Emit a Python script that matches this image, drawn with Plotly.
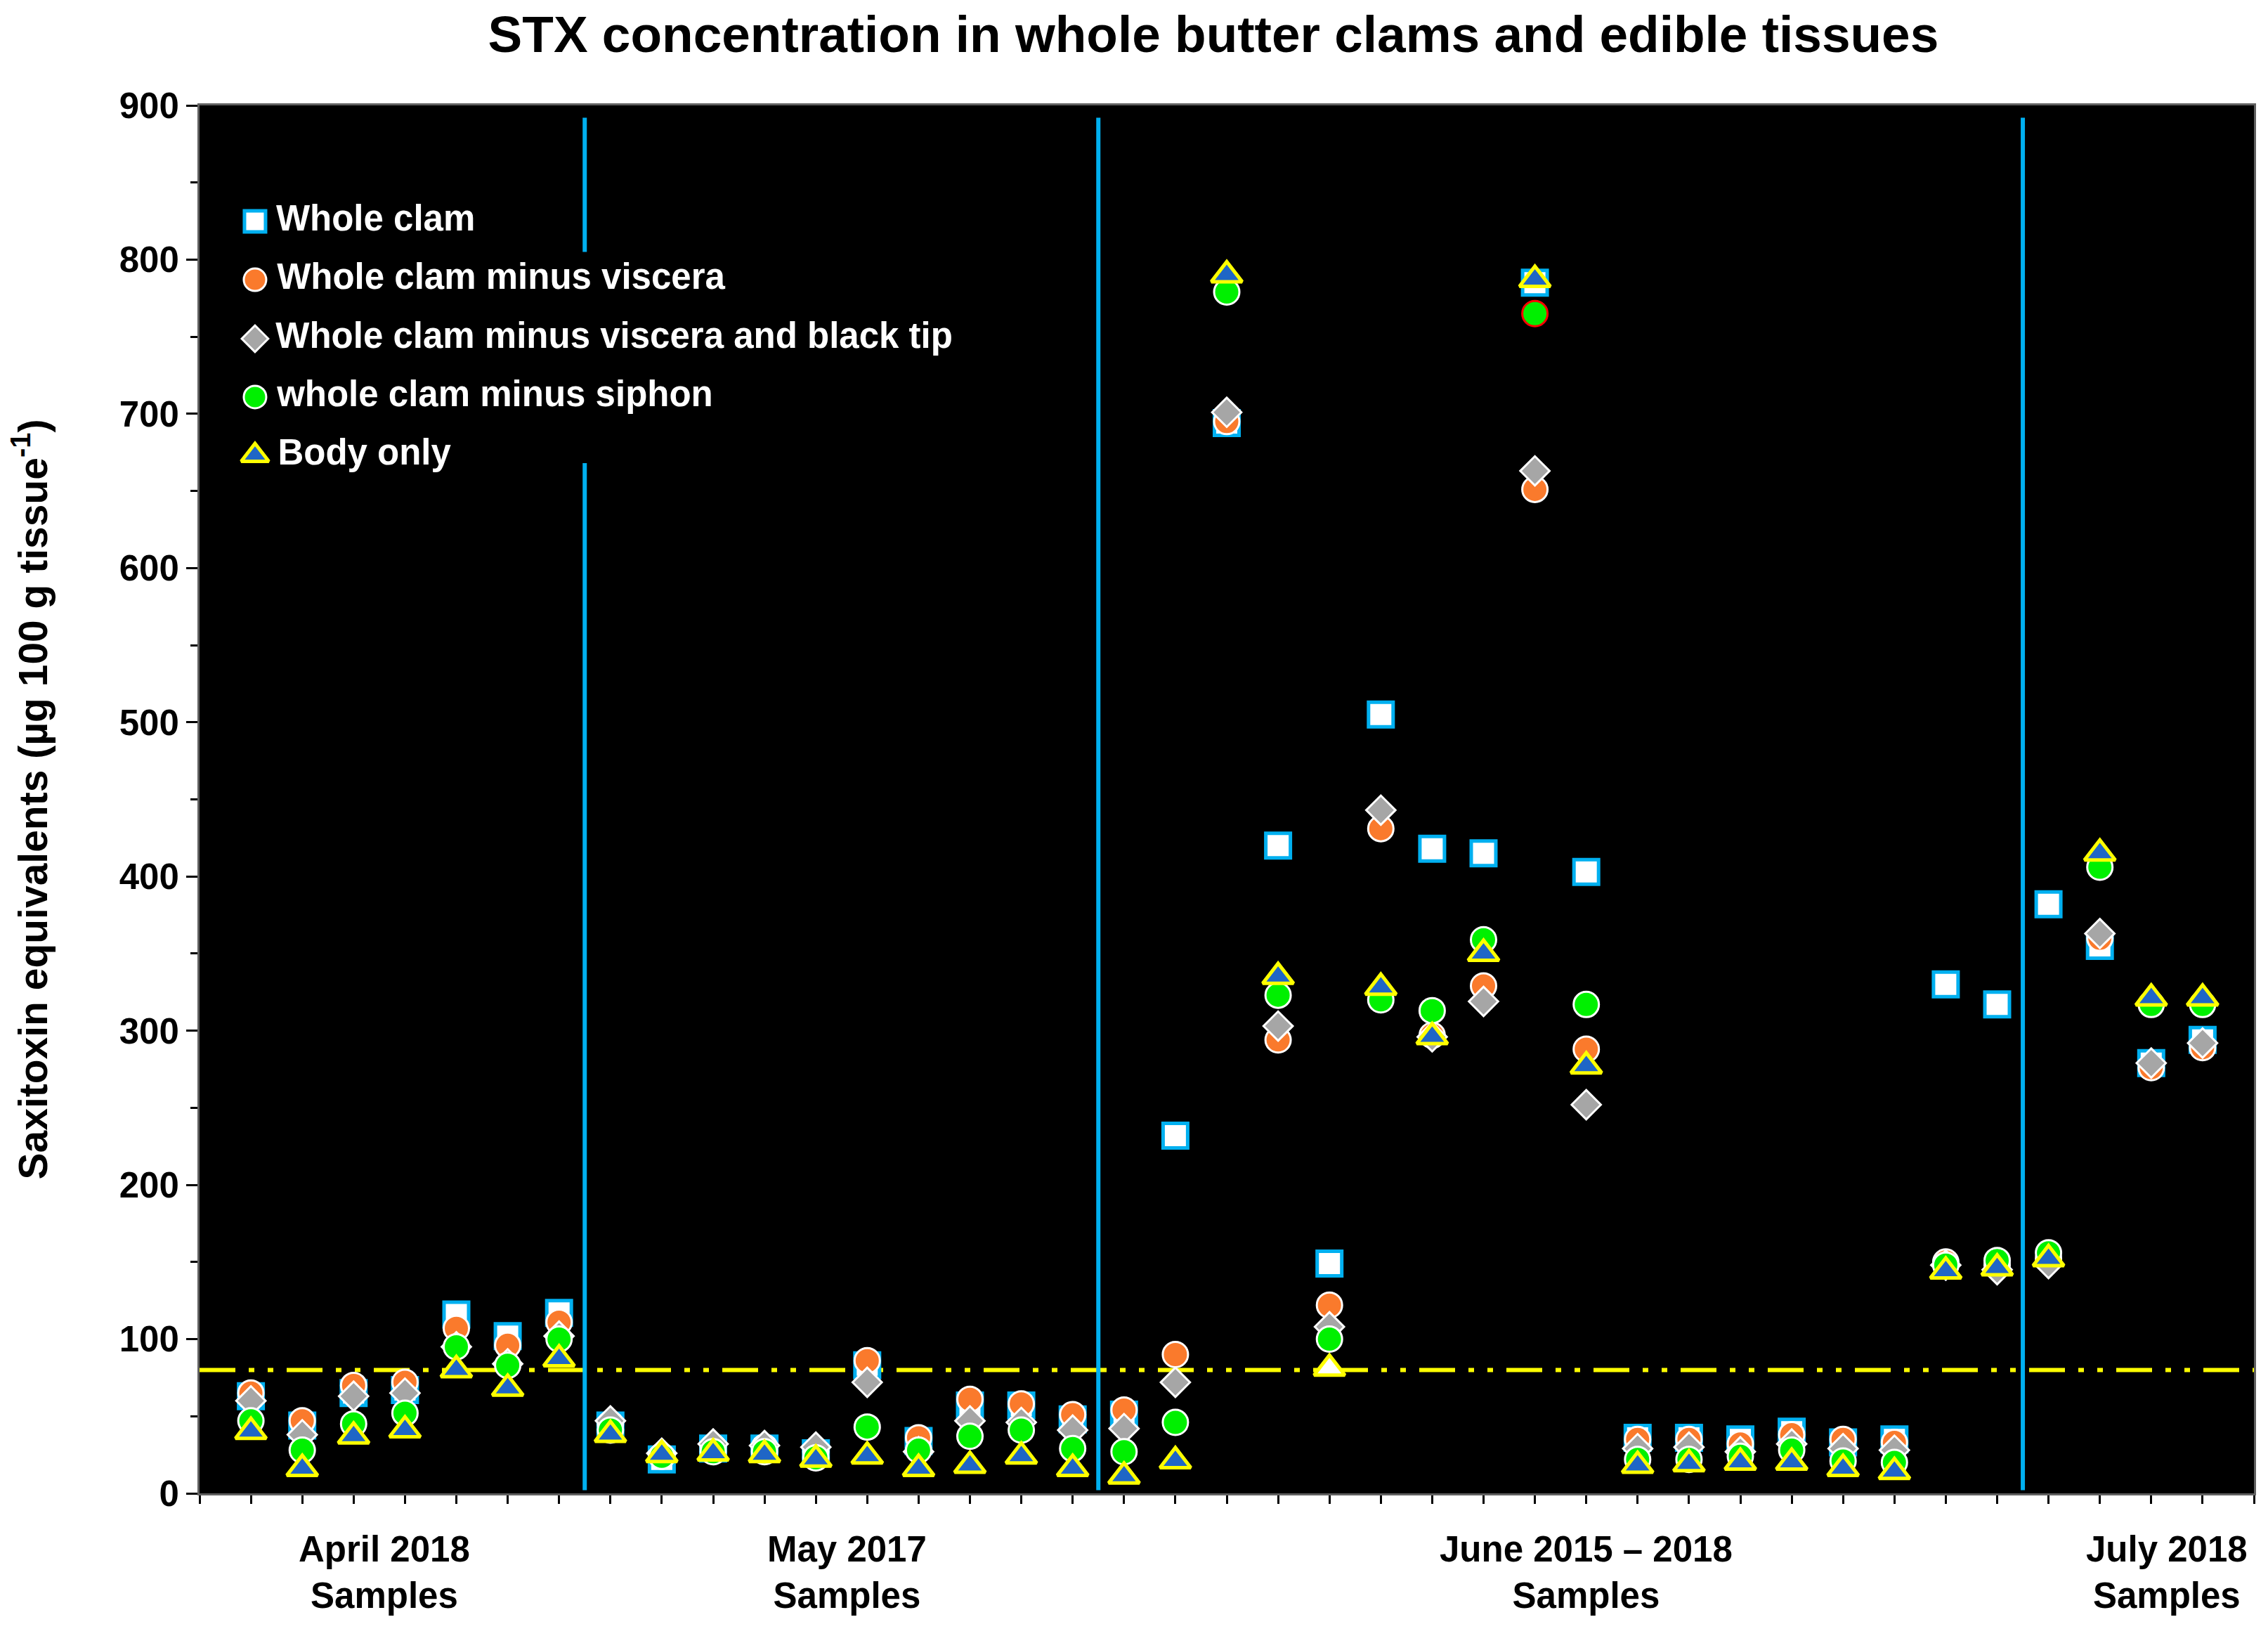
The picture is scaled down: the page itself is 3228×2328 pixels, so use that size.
import plotly.graph_objects as go

# ---------------- data ----------------
samples = list(range(1, 40))

whole_clam = [63, 44, 65, 67, 116, 102, 117,
              44, 22, 29, 29, 26, 83, 34, 57, 57, 48,
              51, 232, 694, 420, 149, 505, 418, 415, 785, 403, 36, 36, 35, 40, 33, 35, 330, 317,
              382, 355, 279, 294]
minus_viscera = [65, 47, 70, 72, 107, 96, 111,
                 45, 24, 30, 30, 27, 86, 36, 61, 58, 51,
                 54, 90, 695, 294, 122, 431, 297, 329, 651, 288, 35, 35, 32, 38, 35, 33, 150, 148,
                 152, 360, 276, 289]
minus_viscera_tip = [60, 38, 63, 65, 95, 84, 102,
                     47, 26, 32, 31, 30, 72, 27, 47, 46, 41,
                     42, 72, 701, 303, 108, 443, 296, 319, 663, 252, 29, 30, 27, 32, 29, 28, 148, 145,
                     149, 363, 279, 292]
minus_siphon = [47, 28, 45, 52, 95, 83, 100,
                41, 24, 27, 27, 23, 43, 28, 37, 41, 29,
                27, 46, 779, 323, 100, 320, 313, 359, 765, 317, 22, 22, 24, 28, 21, 20, 148, 151,
                156, 406, 317, 317]
body_only = [40, 16, 37, 41, 80, 68, 87,
             38, 25, 26, 25, 22, 24, 16, 18, 24, 16,
             11, 21, 790, 335, 81, 328, 296, 350, 787, 277, 18, 19, 20, 20, 16, 14, 144, 146,
             152, 415, 321, 321]

series_names = ["Whole clam", "Whole clam minus viscera",
                "Whole clam minus viscera and black tip",
                "whole clam minus siphon", "Body only"]

group_labels = ["April 2018<br>Samples", "May 2017<br>Samples",
                "June 2015 \u2013 2018<br>Samples", "July 2018<br>Samples"]
group_label_x = [3.6, 12.6, 27.0, 38.3]

separators = [7.5, 17.5, 35.5]
limit_value = 80

y_ticks = list(range(0, 901, 100))
x_ticks = list(range(0, 41))

# ---------------- styles ----------------
FONT = "Liberation Sans, Arial, sans-serif"
BLUE_EDGE = "#00B0F0"
ORANGE = "#FA7A2C"
GRAY = "#A6A6A6"
GREEN = "#00F000"
TRI_BLUE = "#1F66C6"
YELLOW = "#FFFF00"

n = len(samples)
green_edge = ["white"] * n
green_edge[25] = "#FF0000"          # red-ringed point in column 26
tri_fill = [TRI_BLUE] * n
tri_fill[21] = "white"               # white-filled triangle in column 22

styles = [
    dict(symbol="square", size=35, color="white", line=dict(color=BLUE_EDGE, width=5)),
    dict(symbol="circle", size=36, color=ORANGE, line=dict(color="white", width=3)),
    dict(symbol="diamond", size=32, color=GRAY, line=dict(color="white", width=3)),
    dict(symbol="circle", size=36, color=GREEN, line=dict(color=green_edge, width=3)),
    dict(symbol="triangle-up", size=38, color=tri_fill, line=dict(color=YELLOW, width=5)),
]
legend_styles = [
    dict(symbol="square", size=30, color="white", line=dict(color=BLUE_EDGE, width=5)),
    dict(symbol="circle", size=32, color=ORANGE, line=dict(color="white", width=3)),
    dict(symbol="diamond", size=29, color=GRAY, line=dict(color="white", width=3)),
    dict(symbol="circle", size=32, color=GREEN, line=dict(color="white", width=3)),
    dict(symbol="triangle-up", size=34, color=TRI_BLUE, line=dict(color=YELLOW, width=5)),
]

fig = go.Figure()

all_series = [whole_clam, minus_viscera, minus_viscera_tip, minus_siphon, body_only]
for name, vals, st in zip(series_names, all_series, styles):
    fig.add_trace(go.Scatter(x=samples, y=vals, mode="markers", name=name,
                             marker=st, showlegend=False))

# in-plot legend (markers + white text) on an overlay axis
legend_y = [0.9165, 0.8744, 0.8319, 0.7899, 0.7478]
for name, ly, st in zip(series_names, legend_y, legend_styles):
    fig.add_trace(go.Scatter(x=[0.027], y=[ly], mode="markers+text", name=name,
                             text=["\u2009" + name], textposition="middle right",
                             textfont=dict(family=FONT, size=51, color="white", weight="bold"),
                             marker=st, xaxis="x2", yaxis="y2", showlegend=False,
                             cliponaxis=False))

# limit line
fig.add_shape(type="line", xref="paper", yref="y", x0=0, x1=1, y0=limit_value, y1=limit_value,
              line=dict(color=YELLOW, width=6, dash="51px,19px,8px,19px,8px,19px"), layer="below")

# separator lines (the first one is interrupted by the legend)
for i, sx in enumerate(separators):
    segs = [(2, 668), (805, 892)] if i == 0 else [(2, 892)]
    for y0, y1 in segs:
        fig.add_shape(type="line", xref="x", yref="y", x0=sx, x1=sx, y0=y0, y1=y1,
                      line=dict(color=BLUE_EDGE, width=6), layer="below")

# group labels
for lab, gx in zip(group_labels, group_label_x):
    fig.add_annotation(x=gx, xref="x", y=-0.0572, yref="paper", text=lab, showarrow=False,
                       xanchor="center", yanchor="middle",
                       font=dict(family=FONT, size=51, color="black", weight="bold"))

fig.update_layout(
    width=3228, height=2328,
    margin=dict(l=284, r=20, t=150, b=203),
    paper_bgcolor="white", plot_bgcolor="black",
    font=dict(family=FONT, size=51, color="black", weight="bold"),
    title=dict(text="STX concentration in whole butter clams and edible tissues",
               x=0.535, xanchor="center", y=0.979, yanchor="middle", yref="container",
               font=dict(family=FONT, size=73, color="black", weight="bold")),
    showlegend=False,
    xaxis=dict(range=[0, 40], tickvals=x_ticks, showticklabels=False, ticks="outside",
               ticklen=12, tickwidth=3, tickcolor="black", showgrid=False, zeroline=False,
               showline=True, linecolor="#606060", linewidth=3, mirror=True),
    yaxis=dict(range=[0, 900], tickvals=y_ticks, ticks="outside", ticklen=16, tickwidth=3,
               tickcolor="black", showgrid=False, zeroline=False,
               showline=True, linecolor="#606060", linewidth=3, mirror=True,
               tickfont=dict(family=FONT, size=51, color="black", weight="bold"),
               minor=dict(dtick=50, ticks="outside", ticklen=10, tickwidth=3,
                          tickcolor="black", showgrid=False),
               title=dict(text="Saxitoxin equivalents (\u00b5g 100 g tissue<sup>-1</sup>)",
                          font=dict(family=FONT, size=57, color="black", weight="bold"),
                          standoff=84)),
    xaxis2=dict(overlaying="x", range=[0, 1], visible=False, fixedrange=True),
    yaxis2=dict(overlaying="y", range=[0, 1], visible=False, fixedrange=True),
)

fig.write_html("out.html", config={"displayModeBar": False},
               post_script="document.body.style.margin='0';")
